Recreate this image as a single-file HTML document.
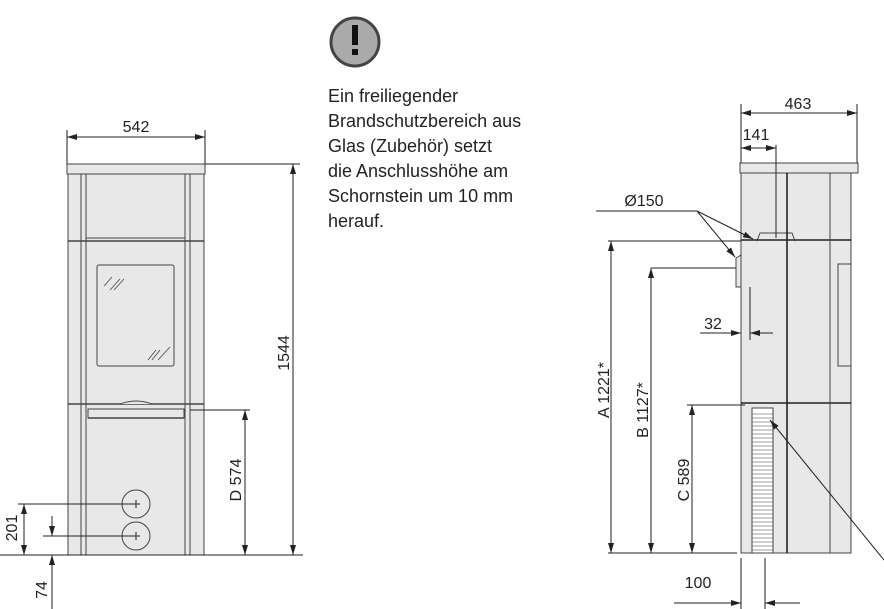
<!DOCTYPE html>
<html><head><meta charset="utf-8"><style>
body{margin:0;background:#fff;width:884px;height:609px;overflow:hidden;font-family:"Liberation Sans","DejaVu Sans",sans-serif}
svg{position:absolute;left:0;top:0}
.t{position:absolute;left:328px;top:84px;font-size:18px;line-height:25px;color:#222;letter-spacing:0px}
</style></head><body>
<svg width="884" height="609" viewBox="0 0 884 609" font-family="Liberation Sans, DejaVu Sans, sans-serif" font-size="16" fill="#222">
<defs>
<marker id="a" markerWidth="10" markerHeight="6" refX="10" refY="3" orient="auto-start-reverse" markerUnits="userSpaceOnUse"><path d="M0,0L10,3L0,6z" fill="#222"/></marker>
</defs>
<circle cx="355" cy="42" r="24" fill="#aaa" stroke="#444" stroke-width="3"/>
<rect x="352" y="25" width="6" height="20" fill="#111"/><rect x="352" y="49" width="6" height="6" fill="#111"/>
<g stroke="#444" stroke-width="1" fill="#e8e8e8">
<rect x="67" y="164" width="138" height="10"/>
<rect x="68" y="174" width="136" height="381"/>
<line x1="81" y1="174" x2="81" y2="555"/><line x1="86" y1="174" x2="86" y2="555"/>
<line x1="185" y1="174" x2="185" y2="555"/><line x1="190" y1="174" x2="190" y2="555"/>
<line x1="86" y1="238" x2="185" y2="238"/>
<line x1="68" y1="241" x2="204" y2="241" stroke-width="1.5"/>
<rect x="97" y="265" width="77" height="101" rx="2"/>
<line x1="68" y1="404" x2="204" y2="404" stroke-width="1.5"/>
<rect x="88" y="409" width="96" height="9"/>
<line x1="88" y1="418" x2="184" y2="418" stroke-width="1.5"/>
<circle cx="136" cy="504" r="14"/><circle cx="136" cy="536" r="14"/>
<path d="M120,404 q16,-6 32,0" />
</g>
<g stroke="#444" stroke-width="0.8">
<line x1="104" y1="286" x2="112" y2="277"/><line x1="110" y1="290" x2="120" y2="279"/><line x1="114" y1="290" x2="124" y2="279"/>
<line x1="148" y1="360" x2="156" y2="350"/><line x1="152" y1="360" x2="160" y2="350"/><line x1="158" y1="360" x2="170" y2="347"/>
</g>
<g stroke="#222" stroke-width="1" fill="none">
<line x1="67" y1="130" x2="67" y2="164"/><line x1="205" y1="130" x2="205" y2="164"/>
<line x1="67" y1="137" x2="205" y2="137" marker-start="url(#a)" marker-end="url(#a)"/>
<line x1="205" y1="164" x2="300" y2="164"/>
<line x1="293" y1="164" x2="293" y2="555" marker-start="url(#a)" marker-end="url(#a)"/>
<line x1="190" y1="410" x2="250" y2="410"/>
<line x1="245" y1="410" x2="245" y2="555" marker-start="url(#a)" marker-end="url(#a)"/>
<line x1="0" y1="555" x2="303" y2="555"/>
<line x1="18" y1="504" x2="136" y2="504"/><line x1="43" y1="536" x2="136" y2="536"/>
<line x1="24" y1="504" x2="24" y2="555" marker-start="url(#a)" marker-end="url(#a)"/>
<line x1="52" y1="516" x2="52" y2="536" marker-end="url(#a)"/>
<line x1="52" y1="609" x2="52" y2="555" marker-end="url(#a)"/>
<line x1="132" y1="504" x2="140" y2="504"/><line x1="136" y1="500" x2="136" y2="508"/>
<line x1="132" y1="536" x2="140" y2="536"/><line x1="136" y1="532" x2="136" y2="540"/>
</g>
<text x="136" y="132" text-anchor="middle">542</text>
<text transform="translate(289,353) rotate(-90)" text-anchor="middle">1544</text>
<text transform="translate(241,480) rotate(-90)" text-anchor="middle">D 574</text>
<text transform="translate(17,528) rotate(-90)" text-anchor="middle">201</text>
<text transform="translate(47,590) rotate(-90)" text-anchor="middle">74</text>
<g stroke="#444" stroke-width="1" fill="#e8e8e8">
<rect x="740" y="163" width="118" height="10"/>
<rect x="741" y="173" width="110" height="380"/>
<rect x="838" y="264" width="13" height="102"/>
<path d="M736,258 L741,255 L741,287 L736,287 Z"/>
<path d="M757,241 L760,233 L792,233 L795,241"/>
<rect x="752" y="408" width="21" height="145" fill="#fff"/>
</g>
<g stroke="#444" stroke-width="0.6">
<path d="M752,414h21M752,418h21M752,422h21M752,426h21M752,430h21M752,434h21M752,438h21M752,442h21M752,446h21M752,450h21M752,454h21M752,458h21M752,462h21M752,466h21M752,470h21M752,474h21M752,478h21M752,482h21M752,486h21M752,490h21M752,494h21M752,498h21M752,502h21M752,506h21M752,510h21M752,514h21M752,518h21M752,522h21M752,526h21M752,530h21M752,534h21M752,538h21M752,542h21M752,546h21M752,550h21"/>
</g>
<g stroke="#222" stroke-width="1.6" fill="none">
<line x1="787" y1="173" x2="787" y2="553"/>
<line x1="741" y1="240" x2="851" y2="240"/>
<line x1="741" y1="403" x2="851" y2="403"/>
</g>
<line x1="830" y1="173" x2="830" y2="553" stroke="#444"/>
<g stroke="#222" stroke-width="1" fill="none">
<line x1="741" y1="104" x2="741" y2="163"/><line x1="857" y1="104" x2="857" y2="163"/>
<line x1="741" y1="113" x2="857" y2="113" marker-start="url(#a)" marker-end="url(#a)"/>
<line x1="776" y1="145" x2="776" y2="238"/>
<line x1="741" y1="148" x2="776" y2="148" marker-start="url(#a)" marker-end="url(#a)"/>
<line x1="596" y1="211" x2="697" y2="211"/>
<line x1="697" y1="211" x2="753" y2="239" marker-end="url(#a)"/>
<line x1="697" y1="211" x2="735" y2="257" marker-end="url(#a)"/>
<line x1="700" y1="333" x2="741" y2="333" marker-end="url(#a)"/>
<line x1="773" y1="333" x2="750" y2="333" marker-end="url(#a)"/>
<line x1="750" y1="287" x2="750" y2="340"/>
<line x1="608" y1="241" x2="741" y2="241"/>
<line x1="611" y1="241" x2="611" y2="553" marker-start="url(#a)" marker-end="url(#a)"/>
<line x1="651" y1="268" x2="736" y2="268"/>
<line x1="651" y1="268" x2="651" y2="553" marker-start="url(#a)" marker-end="url(#a)"/>
<line x1="687" y1="405" x2="745" y2="405"/>
<line x1="692" y1="405" x2="692" y2="553" marker-start="url(#a)" marker-end="url(#a)"/>
<line x1="608" y1="553" x2="737" y2="553"/>
<line x1="884" y1="560" x2="770" y2="420" marker-end="url(#a)"/>
<line x1="741" y1="558" x2="741" y2="609"/><line x1="765" y1="558" x2="765" y2="609"/>
<line x1="674" y1="603" x2="741" y2="603" marker-end="url(#a)"/>
<line x1="800" y1="603" x2="765" y2="603" marker-end="url(#a)"/>
</g>
<text x="798" y="109" text-anchor="middle">463</text>
<text x="756" y="140" text-anchor="middle">141</text>
<text x="644" y="206" text-anchor="middle">Ø150</text>
<text x="713" y="329" text-anchor="middle">32</text>
<text transform="translate(609,390) rotate(-90)" text-anchor="middle">A 1221*</text>
<text transform="translate(648,410) rotate(-90)" text-anchor="middle">B 1127*</text>
<text transform="translate(689,480) rotate(-90)" text-anchor="middle">C 589</text>
<text x="698" y="588" text-anchor="middle">100</text>
</svg>
<div class="t">Ein freiliegender<br>Brandschutzbereich aus<br>Glas (Zubehör) setzt<br>die Anschlusshöhe am<br>Schornstein um 10 mm<br>herauf.</div>
</body></html>
